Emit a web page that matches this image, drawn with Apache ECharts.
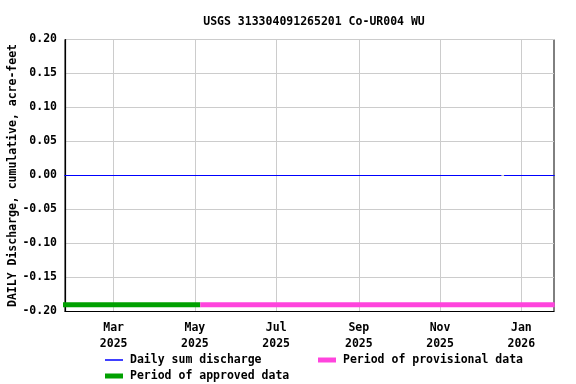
<!DOCTYPE html>
<html><head><meta charset="utf-8">
<script src="https://cdn.jsdelivr.net/npm/echarts@6/dist/echarts.min.js"></script>
<style>html,body{margin:0;padding:0;background:#fff}#c{width:576px;height:384px}</style>
</head><body><div id="c"></div>
<script>
const titleText = 'USGS 313304091265201 Co-UR004 WU';
const yAxisTitle = 'DAILY Discharge, cumulative, acre-feet';
const xRange = ['2025-01-23T12:00:00Z', '2026-01-25T12:00:00Z'];
const xTickDates = ['2025-03-01', '2025-05-01', '2025-07-01', '2025-09-01', '2025-11-01', '2026-01-01'];
const xTickLabels = ['Mar\n2025', 'May\n2025', 'Jul\n2025', 'Sep\n2025', 'Nov\n2025', 'Jan\n2026'];
const yMin = -0.20, yMax = 0.20, yStep = 0.05;
const dischargeDates = ['2025-01-23', '2025-12-17', '2025-12-18', '2025-12-19', '2026-01-26'];
const dischargeValues = [0, 0, null, 0, 0];
const approvedDates = ['2025-01-22', '2025-05-05'];
const approvedValues = [-0.19, -0.19];
const provisionalDates = ['2025-05-05', '2026-01-26'];
const provisionalValues = [-0.19, -0.19];

const t = s => Date.parse(s.length === 10 ? s + 'T00:00:00Z' : s);
const pairs = (d, v) => d.map((x, i) => [t(x), v[i]]);
const tickVals = xTickDates.map(t);
const labelMap = {};
tickVals.forEach((v, i) => labelMap[v] = xTickLabels[i]);
const FONT = 'DejaVu Sans Mono';
const txt = {fontFamily: FONT, fontWeight: 'bold', fontSize: 11.5, color: '#000'};
const BLUE = '#0000ff', GREEN = '#00a000', PINK = '#ff44dd';

const chart = echarts.init(document.getElementById('c'), null, {renderer: 'canvas'});
chart.setOption({
  animation: false,
  backgroundColor: '#fff',
  title: {text: titleText, left: 309, top: 11, textAlign: 'center',
    textStyle: Object.assign({}, txt)},
  grid: {left: 65, right: 22, top: 39.5, bottom: 72.5, show: true, borderColor: '#000', borderWidth: 1,
    containLabel: false, outerBoundsMode: 'none'},
  legend: [
    {left: 100, top: 349, data: ['Daily sum discharge'], itemWidth: 18, itemHeight: 1.5, icon: 'rect', itemGap: 4,
      textStyle: Object.assign({}, txt, {padding: [0, 0, 0, 2]})},
    {left: 313, top: 349, data: ['Period of provisional data'], itemWidth: 18, itemHeight: 5, icon: 'rect',
      textStyle: Object.assign({}, txt, {padding: [0, 0, 0, 2]})},
    {left: 100, top: 365, data: ['Period of approved data'], itemWidth: 18, itemHeight: 5, icon: 'rect',
      textStyle: Object.assign({}, txt, {padding: [0, 0, 0, 2]})}
  ],
  xAxis: {
    type: 'value', min: t(xRange[0]), max: t(xRange[1]),
    axisLine: {show: true, onZero: false, lineStyle: {color: '#000', width: 1.2}},
    axisTick: {show: false, customValues: tickVals},
    splitLine: {show: true, lineStyle: {color: '#cccccc', width: 1}},
    axisLabel: Object.assign({}, txt, {customValues: tickVals, margin: 9, lineHeight: 16,
      formatter: v => labelMap[v] || ''})
  },
  yAxis: {
    type: 'value', min: yMin, max: yMax, interval: yStep,
    name: yAxisTitle, nameLocation: 'middle', nameGap: 46, nameMoveOverlap: false,
    nameTextStyle: Object.assign({}, txt),
    axisLine: {show: true, onZero: false, lineStyle: {color: '#000', width: 1.2}},
    axisTick: {show: false},
    splitLine: {show: true, lineStyle: {color: '#cccccc', width: 1}},
    axisLabel: Object.assign({}, txt, {margin: 8, formatter: v => v.toFixed(2)})
  },
  series: [
    {name: 'Period of approved data', type: 'line', data: pairs(approvedDates, approvedValues),
      symbol: 'none', lineStyle: {color: GREEN, width: 5}, itemStyle: {color: GREEN}, z: 3},
    {name: 'Period of provisional data', type: 'line', data: pairs(provisionalDates, provisionalValues),
      symbol: 'none', lineStyle: {color: PINK, width: 5}, itemStyle: {color: PINK}, z: 3},
    {name: 'Daily sum discharge', type: 'line', data: pairs(dischargeDates, dischargeValues),
      symbol: 'none', connectNulls: false, lineStyle: {color: BLUE, width: 1}, itemStyle: {color: BLUE}, z: 4}
  ]
});
</script></body></html>
